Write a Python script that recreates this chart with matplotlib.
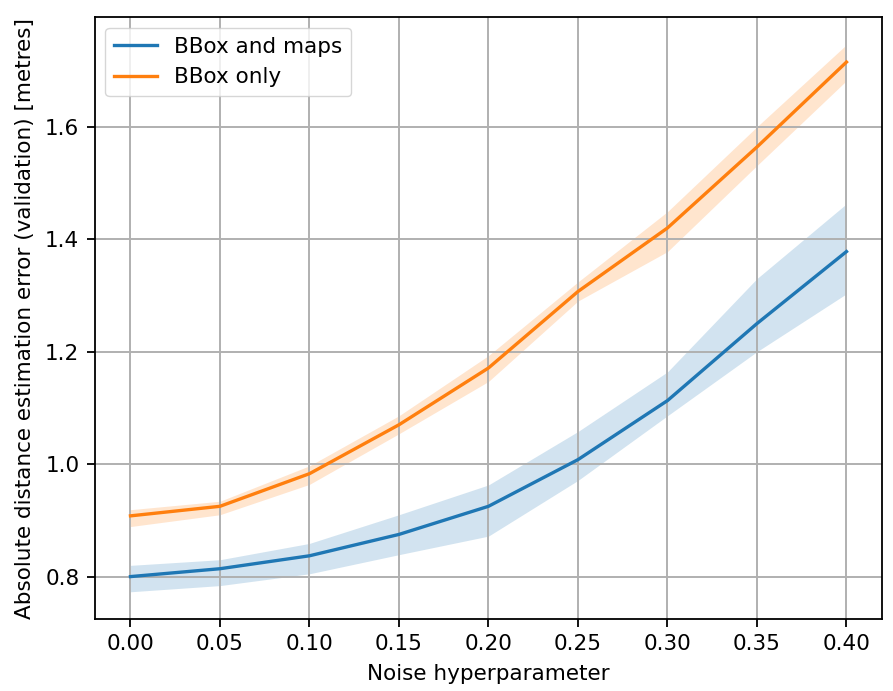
import numpy as np
import matplotlib
matplotlib.use("Agg")
import matplotlib.pyplot as plt

## noise levels used for the validation runs
noise = [0.00, 0.05, 0.10, 0.15, 0.20, 0.25, 0.30, 0.35, 0.40]

maps_mean = [0.800, 0.814, 0.837, 0.875, 0.925, 1.008, 1.113, 1.250, 1.378]
maps_low = [0.773, 0.784, 0.805, 0.839, 0.872, 0.971, 1.086, 1.200, 1.303]
maps_high = [0.820, 0.830, 0.859, 0.910, 0.963, 1.058, 1.164, 1.330, 1.463]

bbox_mean = [0.908, 0.925, 0.983, 1.070, 1.171, 1.307, 1.420, 1.564, 1.715]
bbox_low = [0.889, 0.910, 0.964, 1.054, 1.147, 1.290, 1.378, 1.531, 1.682]
bbox_high = [0.919, 0.934, 0.997, 1.086, 1.193, 1.324, 1.449, 1.600, 1.746]

plt.rcParams['font.size'] = 15.5

fig, ax = plt.subplots(figsize=(8.93, 6.91), dpi=100)

ax.plot(noise, maps_mean, label='BBox and maps', color='C0', linewidth=2.4)
ax.fill_between(noise, maps_low, maps_high, color='C0', alpha=0.2, linewidth=0)
ax.plot(noise, bbox_mean, label='BBox only', color='C1', linewidth=2.4)
ax.fill_between(noise, bbox_low, bbox_high, color='C1', alpha=0.2, linewidth=0)

ax.set_xticks(noise)
ax.set_xlabel("Noise hyperparameter", labelpad=7)
ax.set_ylabel("Absolute distance estimation error (validation) [metres]", labelpad=7)
ax.tick_params(length=6, width=1.3, pad=5)
for s in ax.spines.values():
    s.set_linewidth(1.3)
ax.grid(True, linewidth=1.4)
ax.legend(loc='upper left')

# match the reference axes box
plt.subplots_adjust(left=0.106, right=0.988, bottom=0.104, top=0.975)
plt.savefig("out.png")
